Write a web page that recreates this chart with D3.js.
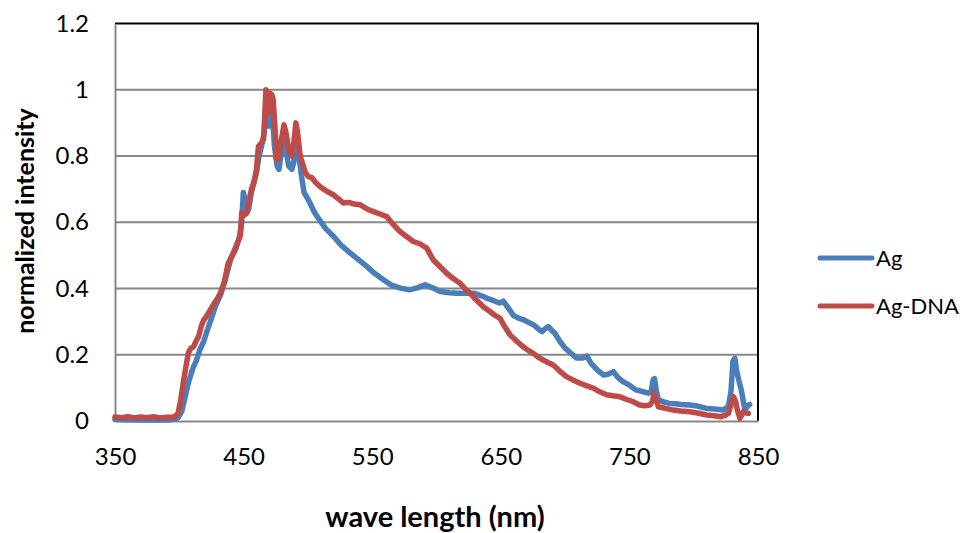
<!DOCTYPE html>
<html>
<head>
<meta charset="utf-8">
<script src="https://cdn.jsdelivr.net/npm/d3@7/dist/d3.min.js"></script>
<style>
  html, body { margin: 0; padding: 0; background: #fff; }
  svg { display: block; font-family: Lato, "Open Sans", sans-serif; }
</style>
</head>
<body>
<svg id="chart" width="966" height="533"></svg>
<script>
// ---- data ----
const seriesNames = ["Ag", "Ag-DNA"];
const seriesColors = ["#4a7ebb", "#be4b48"];

const xTicks = [350, 450, 550, 650, 750, 850];
const yTicks = [0, 0.2, 0.4, 0.6, 0.8, 1, 1.2];
const xTitle = "wave length (nm)";
const yTitle = "normalized intensity";

const agWave = [350,360,370,380,390,396,399,402,405,407,409,411,413,416,419,421,425,428,432,436,440,444,447,448.5,449.8,451,452.5,454,456,458,460,462,464,466,467.5,468.5,469.5,471,472.5,474,476,477.5,479,481.5,483,485,487.5,489,491,493,495,497,500,502,505,509,514,520,526,533,540,546,552,559,565,572,579,585,591,597,603,610,616,622,629,635,639,644,649,652,656,660,664,668,672,676,680,682,685,687,690,692,696,700,705,709,713,717,720,725,730,734,737.5,741,745,750,755,760,765,767,768.5,769.5,771,772.5,776,781,786,790,797,803,810,816,823,827,829,830.5,832,833.5,835,837,839,840,842.5,843.5];
const agValue = [0.005,0.004,0.003,0.003,0.003,0.005,0.01,0.03,0.08,0.114,0.14,0.164,0.18,0.215,0.24,0.265,0.31,0.345,0.38,0.43,0.49,0.52,0.56,0.6,0.69,0.67,0.63,0.64,0.69,0.72,0.75,0.8,0.83,0.87,0.97,0.93,0.89,0.95,0.92,0.83,0.77,0.76,0.8,0.85,0.82,0.77,0.76,0.78,0.85,0.8,0.74,0.69,0.67,0.655,0.63,0.607,0.58,0.557,0.53,0.507,0.485,0.466,0.445,0.426,0.41,0.401,0.396,0.402,0.411,0.402,0.391,0.387,0.386,0.386,0.386,0.378,0.371,0.364,0.356,0.362,0.34,0.318,0.31,0.305,0.297,0.289,0.275,0.27,0.28,0.285,0.272,0.265,0.24,0.22,0.203,0.19,0.19,0.196,0.175,0.154,0.139,0.142,0.149,0.132,0.119,0.108,0.094,0.089,0.084,0.09,0.125,0.128,0.09,0.065,0.058,0.053,0.052,0.05,0.048,0.045,0.038,0.036,0.033,0.045,0.09,0.18,0.19,0.15,0.124,0.094,0.05,0.033,0.048,0.05];

const agDnaWave = [350,355,360,365,370,375,380,385,390,395,397,399,401,403,405,407,409,411,413.5,415,417,419,421,424,429,432,435,438,440,443,446,447.5,448.5,450,452.4,454,456,458,460,461.5,464,465.5,467.4,468.5,469.5,470.5,472,473,474.5,475.7,477,479,481.4,483,485,487.4,489,490.7,492,494,496.4,498,500.3,503,506,509.4,514,519.8,524,527.5,532,536,540.5,546,551,556,561.3,566,571.6,577,582,587,592.4,597.5,603,607.9,613,618.3,622,626,631,636.4,641,645,649.4,653,657.2,662,667.5,671,675.3,679,683,687,690.8,696,701,706,711.6,717,721.9,727,732.3,737,742.7,748,753,758,762,766,768,769,770.5,772.5,778,784,790,797,803,810,816,821,825,827,829,831,832.5,834,836,838.6,840,842.5];
const agDnaValue = [0.012,0.01,0.013,0.009,0.012,0.01,0.013,0.009,0.011,0.012,0.015,0.023,0.06,0.114,0.16,0.205,0.22,0.224,0.245,0.255,0.285,0.305,0.315,0.335,0.366,0.386,0.42,0.476,0.49,0.517,0.545,0.56,0.628,0.62,0.627,0.66,0.698,0.72,0.758,0.829,0.84,0.85,1.0,0.95,0.93,0.99,0.985,0.97,0.88,0.79,0.79,0.84,0.894,0.87,0.82,0.8,0.84,0.9,0.87,0.8,0.77,0.75,0.738,0.735,0.72,0.708,0.695,0.683,0.67,0.658,0.66,0.655,0.653,0.64,0.632,0.625,0.617,0.595,0.572,0.556,0.542,0.535,0.522,0.486,0.465,0.446,0.43,0.416,0.4,0.386,0.365,0.345,0.332,0.32,0.31,0.285,0.26,0.242,0.224,0.214,0.204,0.193,0.184,0.176,0.169,0.15,0.134,0.124,0.114,0.106,0.099,0.088,0.079,0.076,0.073,0.065,0.058,0.048,0.046,0.048,0.06,0.084,0.07,0.043,0.038,0.033,0.03,0.028,0.024,0.018,0.016,0.013,0.018,0.023,0.05,0.073,0.06,0.033,0.008,0.028,0.025,0.023];

// ---- layout ----
const svg = d3.select("#chart");
const plotLeft = 115, plotRight = 758, plotTop = 23.5, plotBottom = 421;

const x = d3.scaleLinear().domain([350, 850]).range([plotLeft, plotRight]);
const y = d3.scaleLinear().domain([0, 1.2]).range([plotBottom, plotTop]);

const gridColor = "#878787";

// gridlines
svg.append("g")
  .selectAll("line")
  .data(yTicks.filter(d => d > 0 && d < 1.2))
  .join("line")
  .attr("x1", plotLeft).attr("x2", plotRight)
  .attr("y1", d => y(d)).attr("y2", d => y(d))
  .attr("stroke", gridColor).attr("stroke-width", 2);

// plot border top/right (black)
svg.append("line").attr("x1", plotLeft).attr("x2", plotRight + 1).attr("y1", plotTop).attr("y2", plotTop)
  .attr("stroke", "#000").attr("stroke-width", 2);
svg.append("line").attr("x1", plotRight).attr("x2", plotRight).attr("y1", plotTop).attr("y2", plotBottom)
  .attr("stroke", "#000").attr("stroke-width", 2);

// axes
const xAxis = d3.axisBottom(x).tickValues(xTicks).tickSize(0).tickPadding(27).tickFormat(d3.format("d"));
const yAxis = d3.axisLeft(y).tickValues(yTicks).tickSize(0).tickPadding(26).tickFormat(d => d3.format("")(d));

const gx = svg.append("g").attr("transform", `translate(0,${plotBottom})`).call(xAxis);
const gy = svg.append("g").attr("transform", `translate(${plotLeft},0)`).call(yAxis);
[gx, gy].forEach(g => {
  g.select(".domain").attr("stroke", gridColor).attr("stroke-width", 2);
  g.selectAll("text").attr("font-size", 24).attr("fill", "#000")
    .attr("font-family", "Lato, 'Open Sans', sans-serif");
});

// lines
const line = d3.line().x(d => x(d[0])).y(d => y(d[1])).curve(d3.curveLinear);
const series = [
  d3.zip(agWave, agValue),
  d3.zip(agDnaWave, agDnaValue)
];
svg.append("g")
  .selectAll("path")
  .data(series)
  .join("path")
  .attr("d", line)
  .attr("fill", "none")
  .attr("stroke", (d, i) => seriesColors[i])
  .attr("stroke-width", 5.5)
  .attr("stroke-linejoin", "round")
  .attr("stroke-linecap", "round");

// titles
svg.append("text")
  .attr("x", 435).attr("y", 527)
  .attr("text-anchor", "middle")
  .attr("font-size", 29).attr("font-weight", "bold")
  .text(xTitle);

svg.append("text")
  .attr("transform", "translate(34,221) rotate(-90)")
  .attr("text-anchor", "middle")
  .attr("font-size", 25).attr("font-weight", "bold")
  .text(yTitle);

// legend
const legend = svg.append("g");
const legY = [258, 306];
seriesNames.forEach((name, i) => {
  legend.append("line")
    .attr("x1", 820).attr("x2", 872)
    .attr("y1", legY[i]).attr("y2", legY[i])
    .attr("stroke", seriesColors[i]).attr("stroke-width", 5)
    .attr("stroke-linecap", "round");
  legend.append("text")
    .attr("x", 876).attr("y", legY[i])
    .attr("dy", "0.35em")
    .attr("font-size", 22)
    .text(name);
});
</script>
</body>
</html>
